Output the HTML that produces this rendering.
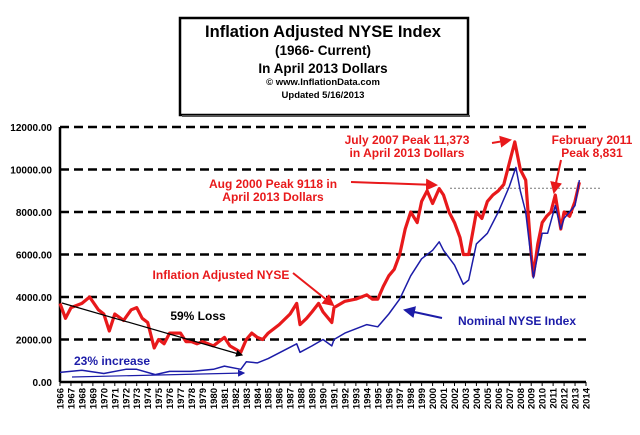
<!DOCTYPE html>
<html><head><meta charset="utf-8"><style>
html,body{margin:0;padding:0;background:#fff;}
svg{display:block;font-family:"Liberation Sans",Arial,sans-serif;font-weight:bold;}
</style></head><body>
<svg id="chart" width="640" height="435" viewBox="0 0 640 435">
<g>
<rect x="180" y="18" width="288" height="97" fill="#fff" stroke="#000" stroke-width="2.5"/>
<rect x="182" y="115" width="288" height="2" fill="#555"/>
<text x="323" y="37" font-size="16.5" text-anchor="middle">Inflation Adjusted NYSE Index</text>
<text x="323" y="55" font-size="13.5" text-anchor="middle">(1966- Current)</text>
<text x="323" y="73" font-size="13.5" text-anchor="middle">In April 2013 Dollars</text>
<text x="323" y="85" font-size="9.5" text-anchor="middle">© www.InflationData.com</text>
<text x="323" y="98" font-size="9.5" text-anchor="middle">Updated 5/16/2013</text>
</g>
<g id="grid"></g><g id="axes"></g><g id="series"></g><g id="ann"></g>
</svg>
<script>
const yTicks=[0,2000,4000,6000,8000,10000,12000];
const yearLabels=[];for(let y=1966;y<=2014;y++)yearLabels.push(y);
const realX=[1966,1966.5,1967,1968,1968.7,1969.5,1970,1970.5,1971,1971.8,1972.5,1973,1973.5,1974,1974.6,1975,1975.5,1976,1977,1977.5,1978,1978.5,1979,1980,1980.5,1981,1981.5,1982.5,1983,1983.5,1984,1984.5,1985,1986,1987,1987.6,1987.9,1988.5,1989,1989.6,1990,1990.8,1991,1992,1993,1994,1994.5,1995,1995.5,1996,1996.5,1997,1997.5,1998,1998.6,1999,1999.5,2000,2000.6,2001,2001.5,2002,2002.5,2002.8,2003.3,2004,2004.5,2005,2005.5,2006,2006.5,2007,2007.5,2008,2008.5,2009,2009.2,2009.6,2010,2010.4,2010.8,2011.2,2011.7,2012,2012.5,2013,2013.4];
const realY=[3700,3000,3500,3700,4000,3400,3200,2400,3200,2900,3400,3500,3000,2800,1600,2000,1800,2300,2300,1900,1900,1800,1900,1700,1900,2100,1700,1400,2000,2300,2100,2000,2300,2700,3200,3700,2700,3000,3300,3700,3300,2800,3500,3800,3900,4100,3900,3900,4500,5000,5300,6000,7200,8000,7500,8500,9000,8400,9100,8800,8000,7500,6800,6000,6000,8000,7700,8500,8800,9000,9300,10300,11300,10000,9500,6000,5000,6500,7500,7800,8000,8800,7200,8000,7800,8500,9400];
const nomX=[1966,1968,1970,1972,1973,1974.7,1976,1978,1980,1981,1982.5,1983,1984,1985,1987.6,1987.9,1989,1990,1990.8,1991,1992,1994,1995,1996,1997,1998,1999,2000,2000.6,2001,2002,2002.8,2003.3,2004,2005,2006,2007,2007.6,2008,2008.5,2009.2,2009.6,2010,2010.5,2011.2,2011.7,2012,2013,2013.4];
const nomY=[450,550,400,600,600,350,500,500,600,750,600,950,900,1100,1800,1400,1700,2000,1700,2000,2300,2700,2600,3200,3900,5000,5800,6200,6600,6200,5500,4600,4800,6500,7000,8000,9200,10100,9000,8000,4900,6000,7000,7000,8300,7200,7700,8300,9500];
const peak2000=9118;
const NS="http://www.w3.org/2000/svg";
const X0=60,X1=586,Y0=382,Y1=127;
function xs(t){return X0+(t-1966)/(2014-1966)*(X1-X0);}
function ys(v){return Y0-v/12000*(Y0-Y1);}
function mk(tag,attrs,parent){const e=document.createElementNS(NS,tag);for(const k in attrs)e.setAttribute(k,attrs[k]);parent.appendChild(e);return e;}
const grid=document.getElementById('grid'),axes=document.getElementById('axes'),series=document.getElementById('series');
yTicks.forEach(v=>{
 if(v>0){const l=mk('line',{x1:X0,x2:X1,y1:ys(v),y2:ys(v),stroke:'#000','stroke-width':2.5,'stroke-dasharray':'9,5'},grid);
 
 }
 const t=mk('text',{x:X0-8,y:ys(v)+4,'font-size':10,'text-anchor':'end'},axes);
 t.textContent=v.toFixed(2);
 
 
});
const ya=mk('line',{x1:X0,x2:X0,y1:Y1,y2:Y0,stroke:'#000','stroke-width':2.5},axes);


const xa=mk('line',{x1:X0,x2:X1,y1:Y0,y2:Y0,stroke:'#000','stroke-width':2.5},axes);


yearLabels.forEach(y=>{
 const x=xs(y);
 const tk=mk('line',{x1:x,x2:x,y1:Y0,y2:Y0+4,stroke:'#000','stroke-width':1},axes);
 
 
 const t=mk('text',{x:0,y:0,'font-size':9.5,'text-anchor':'end',transform:`translate(${x+3.5},${Y0+6}) rotate(-90)`},axes);
 t.textContent=y;
 
 
});
const dl=mk('line',{x1:450,x2:601,y1:ys(peak2000),y2:ys(peak2000),stroke:'#777','stroke-width':1,'stroke-dasharray':'2,2'},series);


function path(xa,ya){return xa.map((t,i)=>(i?'L':'M')+xs(t).toFixed(1)+','+ys(ya[i]).toFixed(1)).join('');}
const rp=mk('path',{d:path(realX,realY),fill:'none',stroke:'#e8191b','stroke-width':3.2,'stroke-linejoin':'round'},series);


const np=mk('path',{d:path(nomX,nomY),fill:'none',stroke:'#1c1ca8','stroke-width':1.5,'stroke-linejoin':'round'},series);


</script>
<svg width="0" height="0" style="position:absolute"><defs>
<marker id="ar" markerWidth="6" markerHeight="6" refX="5" refY="3" orient="auto"><path d="M0,0L6,3L0,6z" fill="#e8191b"/></marker>
<marker id="ab" markerWidth="6" markerHeight="6" refX="5" refY="3" orient="auto"><path d="M0,0L6,3L0,6z" fill="#1c1ca8"/></marker>
<marker id="ak" markerWidth="6" markerHeight="6" refX="5" refY="3" orient="auto"><path d="M0,0L6,3L0,6z" fill="#000"/></marker>
</defs></svg>
<script>
const ann=document.getElementById('ann');
ann.innerHTML=`
<g font-size="12" fill="#e8191b" text-anchor="middle">
<text x="407" y="144">July 2007 Peak 11,373</text>
<text x="407" y="157">in April 2013 Dollars</text>
<text x="592" y="144">February 2011</text>
<text x="592" y="157">Peak 8,831</text>
<text x="273" y="188">Aug 2000 Peak 9118 in</text>
<text x="273" y="201">April 2013 Dollars</text>
<text x="221" y="279">Inflation Adjusted NYSE</text>
</g>
<text x="198" y="320" font-size="12" fill="#000" text-anchor="middle">59% Loss</text>
<text x="517" y="325" font-size="12" fill="#1c1ca8" text-anchor="middle">Nominal NYSE Index</text>
<text x="74" y="365" font-size="12" fill="#1c1ca8">23% increase</text>
<g stroke-width="2">
<line x1="351" y1="182" x2="436" y2="185" stroke="#e8191b" marker-end="url(#ar)"/>
<line x1="492" y1="143" x2="510" y2="140" stroke="#e8191b" marker-end="url(#ar)"/>
<line x1="561" y1="160" x2="554" y2="192" stroke="#e8191b" marker-end="url(#ar)"/>
<line x1="293" y1="273" x2="333" y2="305" stroke="#e8191b" marker-end="url(#ar)"/>
<line x1="62" y1="303" x2="242" y2="355" stroke="#000" stroke-width="1.2" marker-end="url(#ak)"/>
<line x1="442" y1="318" x2="405" y2="310" stroke="#1c1ca8" marker-end="url(#ab)"/>
<line x1="72" y1="377" x2="244" y2="373" stroke="#1c1ca8" stroke-width="1.2" marker-end="url(#ab)"/>
</g>`;
</script>
</body></html>
